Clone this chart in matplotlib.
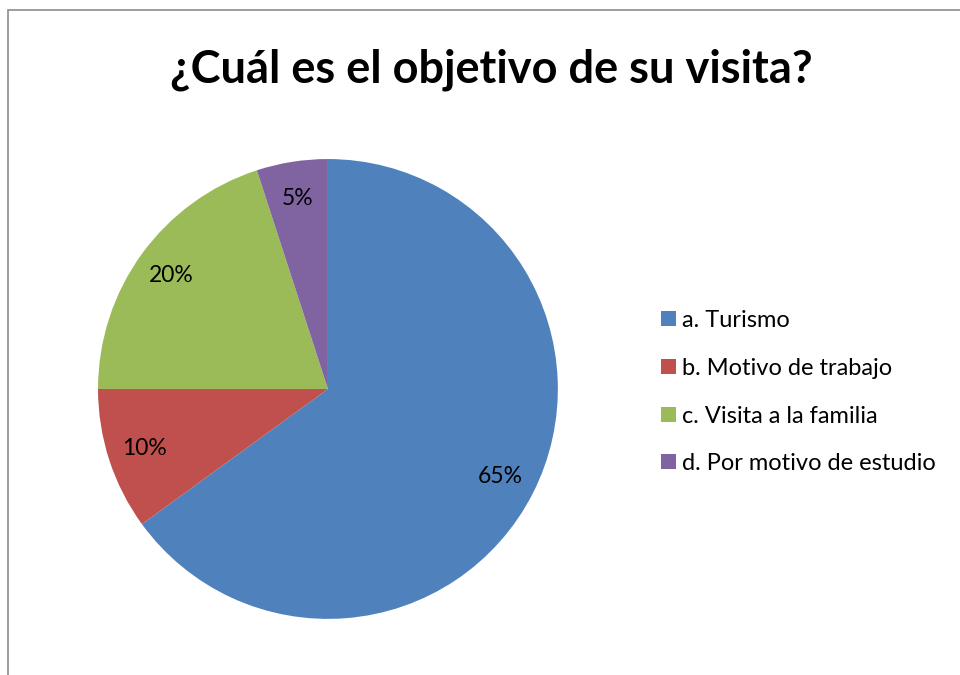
import matplotlib.pyplot as plt
from matplotlib.patches import Rectangle

plt.rcParams['font.family'] = ['Lato', 'DejaVu Sans']

# data
labels = ['a. Turismo', 'b. Motivo de trabajo', 'c. Visita a la familia',
          'd. Por motivo de estudio']
values = [65, 10, 20, 5]
colors = ['#4F81BD', '#C0504D', '#9BBB59', '#8064A2']

fig = plt.figure(figsize=(9.6, 6.75), dpi=100)

# chart frame (right and bottom edges are cut off in the original)
fig.patches.append(Rectangle((8 / 960, -0.1), 1.2, 1.1 - 10 / 675,
                             transform=fig.transFigure, fill=False,
                             edgecolor='#8c8c8c', linewidth=1.2))

ax = fig.add_axes([0.1021, 0.083, 0.479, 0.6815])
wedges, texts, autotexts = ax.pie(values, colors=colors, startangle=90,
                                  counterclock=False, autopct='%d%%',
                                  pctdistance=0.84,
                                  textprops={'fontsize': 16.5, 'color': 'black'})
ax.set_aspect('equal')
ax.set_xlim(-1, 1)
ax.set_ylim(-1, 1)

fig.text(0.512, 0.897, '¿Cuál es el objetivo de su visita?', ha='center',
         va='center', fontsize=32.5, fontweight='bold')

ax.legend(wedges, labels, loc='center left',
          bbox_to_anchor=(0.689, 0.419), bbox_transform=fig.transFigure,
          frameon=False, fontsize=17, handlelength=0.6, handleheight=0.6,
          handletextpad=0.25, labelspacing=1.13, borderpad=0,
          borderaxespad=0)

fig.savefig('out.png', dpi=100)
